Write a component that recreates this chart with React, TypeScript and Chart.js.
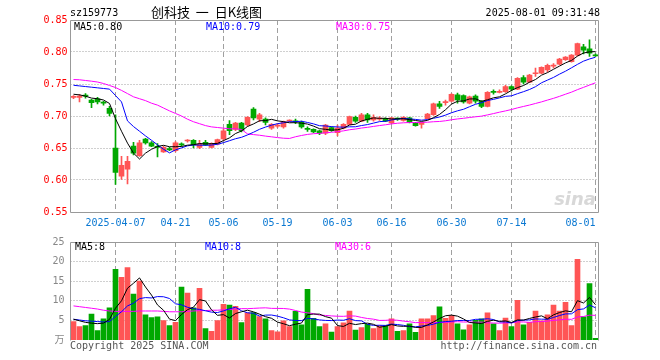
import React, { useEffect, useRef } from "react";
import { Chart, registerables } from "chart.js";

Chart.register(...registerables);

// ---------------- DATA ----------------
const dates = [
  "2025-03-26","2025-03-27","2025-03-28","2025-03-31","2025-04-01","2025-04-02","2025-04-03","2025-04-07","2025-04-08","2025-04-09",
  "2025-04-10","2025-04-11","2025-04-14","2025-04-15","2025-04-16","2025-04-17","2025-04-18","2025-04-21","2025-04-22","2025-04-23",
  "2025-04-24","2025-04-25","2025-04-28","2025-04-29","2025-04-30","2025-05-06","2025-05-07","2025-05-08","2025-05-09","2025-05-12",
  "2025-05-13","2025-05-14","2025-05-15","2025-05-16","2025-05-19","2025-05-20","2025-05-21","2025-05-22","2025-05-23","2025-05-26",
  "2025-05-27","2025-05-28","2025-05-29","2025-05-30","2025-06-03","2025-06-04","2025-06-05","2025-06-06","2025-06-09","2025-06-10",
  "2025-06-11","2025-06-12","2025-06-13","2025-06-16","2025-06-17","2025-06-18","2025-06-19","2025-06-20","2025-06-23","2025-06-24",
  "2025-06-25","2025-06-26","2025-06-27","2025-06-30","2025-07-01","2025-07-02","2025-07-03","2025-07-04","2025-07-07","2025-07-08",
  "2025-07-09","2025-07-10","2025-07-11","2025-07-14","2025-07-15","2025-07-16","2025-07-17","2025-07-18","2025-07-21","2025-07-22",
  "2025-07-23","2025-07-24","2025-07-25","2025-07-28","2025-07-29","2025-07-30","2025-07-31","2025-08-01",
];

const opens = [
  0.729,0.729,0.732,0.725,0.727,0.721,0.712,0.650,0.606,0.617,
  0.653,0.638,0.664,0.658,0.652,0.644,0.649,0.646,0.656,0.661,
  0.662,0.651,0.659,0.651,0.656,0.664,0.687,0.679,0.689,0.686,
  0.711,0.695,0.695,0.681,0.684,0.683,0.692,0.692,0.690,0.680,
  0.679,0.677,0.673,0.682,0.674,0.681,0.687,0.698,0.692,0.702,
  0.694,0.695,0.696,0.689,0.696,0.693,0.697,0.689,0.687,0.696,
  0.702,0.719,0.721,0.723,0.733,0.732,0.720,0.731,0.723,0.715,
  0.738,0.737,0.738,0.746,0.742,0.760,0.753,0.766,0.767,0.772,
  0.778,0.781,0.788,0.785,0.795,0.808,0.805,0.795,
];
const closes = [
  0.730,0.731,0.731,0.721,0.722,0.720,0.704,0.612,0.623,0.629,
  0.642,0.658,0.658,0.653,0.651,0.651,0.647,0.658,0.655,0.661,
  0.655,0.656,0.655,0.657,0.663,0.677,0.677,0.689,0.677,0.698,
  0.697,0.702,0.690,0.687,0.686,0.691,0.693,0.691,0.683,0.679,
  0.675,0.673,0.686,0.677,0.681,0.687,0.699,0.692,0.702,0.694,
  0.698,0.696,0.692,0.697,0.695,0.698,0.690,0.685,0.690,0.703,
  0.719,0.715,0.722,0.734,0.725,0.722,0.730,0.723,0.715,0.737,
  0.737,0.738,0.746,0.742,0.759,0.753,0.764,0.767,0.776,0.779,
  0.779,0.789,0.792,0.795,0.813,0.803,0.798,0.794,
];
const highs = [
  0.732,0.734,0.735,0.726,0.729,0.723,0.715,0.702,0.637,0.637,
  0.659,0.662,0.665,0.660,0.657,0.653,0.651,0.660,0.658,0.663,
  0.663,0.662,0.662,0.658,0.664,0.679,0.693,0.690,0.690,0.699,
  0.713,0.704,0.697,0.688,0.688,0.692,0.694,0.695,0.692,0.683,
  0.680,0.678,0.687,0.683,0.686,0.688,0.700,0.700,0.704,0.704,
  0.702,0.699,0.697,0.698,0.697,0.699,0.698,0.690,0.690,0.704,
  0.720,0.723,0.725,0.735,0.736,0.733,0.731,0.733,0.724,0.738,
  0.741,0.741,0.748,0.747,0.760,0.763,0.765,0.775,0.777,0.781,
  0.782,0.790,0.793,0.796,0.814,0.812,0.819,0.797,
];
const lows = [
  0.727,0.722,0.728,0.713,0.719,0.717,0.700,0.593,0.601,0.594,
  0.639,0.637,0.656,0.652,0.636,0.643,0.646,0.644,0.653,0.659,
  0.650,0.649,0.654,0.650,0.655,0.662,0.671,0.677,0.675,0.684,
  0.694,0.691,0.686,0.679,0.682,0.681,0.691,0.688,0.681,0.676,
  0.674,0.671,0.671,0.676,0.669,0.680,0.686,0.690,0.691,0.690,
  0.692,0.693,0.691,0.688,0.693,0.692,0.689,0.684,0.681,0.695,
  0.701,0.712,0.717,0.722,0.720,0.720,0.719,0.720,0.713,0.714,
  0.734,0.736,0.737,0.739,0.741,0.750,0.752,0.762,0.766,0.769,
  0.775,0.780,0.787,0.784,0.794,0.797,0.793,0.793,
];
// volume, in 万 (10k) units
const volumes = [
  4.7,3.45,3.7,6.6,2.4,5.4,8.2,18.0,16.0,18.5,
  11.7,15.0,6.4,5.7,5.9,4.95,3.7,4.5,13.5,12.0,
  8.2,13.2,2.9,2.2,4.95,9.1,8.9,8.6,4.45,6.95,
  7.0,5.95,5.4,2.4,2.1,4.9,3.45,7.3,3.9,12.9,
  5.5,3.4,4.1,2.0,3.4,4.4,7.4,2.5,3.2,4.0,
  2.9,3.7,3.7,5.4,2.2,2.4,4.1,1.95,5.4,5.4,
  6.2,8.45,5.5,6.2,4.1,2.6,3.9,5.0,5.4,6.9,
  4.1,2.4,5.6,3.4,10.1,3.9,4.5,7.4,4.9,6.4,
  8.9,7.4,9.6,3.7,20.6,5.9,14.4,0.4,
];

// moving-average values before enough history exists in the window
const priceMa5Lead = [0.734, 0.733, 0.731, 0.728];
const priceMa10Lead = [0.748, 0.747, 0.746, 0.745, 0.744, 0.743, 0.742, 0.732, 0.722];
const priceMa30Lead = [
  0.757,0.7566,0.7555,0.7544,0.7531,0.7508,0.7477,0.7445,0.740,0.735,
  0.730,0.727,0.724,0.720,0.717,0.7125,0.708,0.704,0.700,0.695,
  0.691,0.688,0.685,0.683,0.682,0.681,0.680,0.680,0.679,
];
const volMa5Lead = [5.3, 4.9, 4.5, 4.3];
const volMa10Lead = [5.3, 5.1, 4.9, 4.8, 4.7, 4.6, 4.7, 6.0, 7.2];
const volMa30Lead = [
  8.7,8.5,8.3,8.1,7.9,7.6,7.4,7.3,7.3,7.3,
  7.3,7.4,7.4,7.4,7.4,7.3,7.2,7.2,7.2,7.3,
  7.4,7.5,7.5,7.6,7.6,7.7,7.8,7.9,8.0,
];

const tickDates = ["2025-04-07","2025-04-21","2025-05-06","2025-05-19","2025-06-03","2025-06-16","2025-06-30","2025-07-14","2025-08-01"];
const tickLabels = ["2025-04-07","04-21","05-06","05-19","06-03","06-16","06-30","07-14","08-01"];

const priceMin = 0.55;
const priceMax = 0.85;
const priceStep = 0.05;
const volMax = 25;
const volStep = 5;

const headerCode = "sz159773";
const headerTitle = "创科技  一  日K线图";
const headerTime = "2025-08-01 09:31:48";
const priceMaLabels = ["MA5:0.80", "MA10:0.79", "MA30:0.75"];
const volMaLabels = ["MA5:8", "MA10:8", "MA30:6"];

// ---------------- HELPERS ----------------
function movingAverage(values: number[], n: number, lead: number[]) {
  return values.map((_, i) => {
    if (i < n - 1) return lead[i];
    let s = 0;
    for (let k = i - n + 1; k <= i; k++) s += values[k];
    return s / n;
  });
}

const UP = "#ff5555";
const DOWN = "#00a800";
const GRID = "#a0a0a0";
const MONO = '"DejaVu Sans Mono", "Noto Sans CJK SC", monospace';
const candleColors = closes.map((c, i) => (c >= opens[i] ? UP : DOWN));
const tickIdx = tickDates.map((d) => dates.indexOf(d));

// grid lines (dotted horizontals at the y ticks, dashed verticals at the labelled dates) + frame
const framePlugin = {
  id: "frame",
  beforeDatasetsDraw(chart: any) {
    const { left, right, top, bottom } = chart.chartArea;
    const ctx = chart.ctx;
    const ys = chart.scales.y;
    const xs = chart.scales.x;
    ctx.save();
    ctx.strokeStyle = GRID;
    ctx.lineWidth = 1;
    ctx.setLineDash([1, 2]);
    ctx.beginPath();
    ys.ticks.forEach((t: any) => {
      if (t.value <= ys.min + 1e-6 || t.value >= ys.max - 1e-6) return;
      const y = Math.floor(ys.getPixelForValue(t.value)) + 0.5;
      ctx.moveTo(left, y);
      ctx.lineTo(right, y);
    });
    ctx.stroke();
    ctx.setLineDash([5, 3]);
    ctx.beginPath();
    tickIdx.forEach((i) => {
      const x = Math.floor(xs.getPixelForValue(i)) + 0.5;
      ctx.moveTo(x, top);
      ctx.lineTo(x, bottom);
    });
    ctx.stroke();
    ctx.restore();
  },
  afterDraw(chart: any, _args: any, opts: any) {
    const { left, right, top, bottom } = chart.chartArea;
    const ctx = chart.ctx;
    const l = Math.floor(left) + 0.5;
    const r = Math.floor(right) + 0.5;
    const t = Math.floor(top) + 0.5;
    const b = Math.floor(bottom) + 0.5;
    ctx.save();
    ctx.strokeStyle = "#999";
    ctx.lineWidth = 1;
    ctx.setLineDash([]);
    ctx.beginPath();
    ctx.moveTo(l, b);
    ctx.lineTo(l, t);
    ctx.lineTo(r, t);
    ctx.lineTo(r, b);
    if (opts && opts.bottom) ctx.lineTo(l, b);
    ctx.stroke();
    ctx.restore();
  },
};

function xScale(showLabels: boolean, height: number) {
  return {
    type: "category",
    offset: true,
    grid: { display: false, offset: false, drawTicks: false },
    border: { display: false },
    ticks: {
      display: showLabels,
      autoSkip: false,
      maxRotation: 0,
      minRotation: 0,
      padding: 5,
      color: "#0a78d2",
      font: { family: MONO, size: 10 },
      callback: (_v: any, index: number) => {
        const k = tickIdx.indexOf(index);
        if (k < 0) return "";
        const lab = tickLabels[k];
        return k === tickLabels.length - 1 ? lab.padEnd(10, " ") : lab;
      },
    },
    afterFit: (s: any) => {
      s.height = height;
    },
  };
}

function lineDs(data: number[], color: string) {
  return {
    type: "line",
    data,
    borderColor: color,
    borderWidth: 1,
    pointRadius: 0,
    tension: 0,
    fill: false,
    order: 0,
  };
}

function PriceChart() {
  const ref = useRef<HTMLCanvasElement>(null);
  useEffect(() => {
    const chart = new Chart(ref.current as HTMLCanvasElement, {
      type: "bar",
      data: {
        labels: dates,
        datasets: [
          lineDs(movingAverage(closes, 5, priceMa5Lead), "#000000"),
          lineDs(movingAverage(closes, 10, priceMa10Lead), "#0000ff"),
          lineDs(movingAverage(closes, 30, priceMa30Lead), "#ff00ff"),
          {
            type: "bar",
            data: opens.map((o, i) => [o, closes[i]]),
            backgroundColor: candleColors,
            borderWidth: 0,
            barThickness: 5,
            minBarLength: 1,
            grouped: false,
            order: 1,
          },
          {
            type: "bar",
            data: lows.map((l, i) => [l, highs[i]]),
            backgroundColor: candleColors,
            borderWidth: 0,
            barThickness: 1,
            grouped: false,
            order: 2,
          },
        ] as any,
      },
      options: {
        animation: false,
        responsive: false,
        maintainAspectRatio: false,
        events: [],
        layout: { padding: { left: 0, right: 61.5, top: 20, bottom: 0 } },
        plugins: { legend: { display: false }, tooltip: { enabled: false }, frame: { bottom: true } } as any,
        scales: {
          x: xScale(true, 20) as any,
          y: {
            min: priceMin,
            max: priceMax,
            grid: { display: false, drawTicks: false },
            border: { display: false },
            ticks: {
              stepSize: priceStep,
              padding: 3,
              color: "#ff0000",
              font: { family: MONO, size: 10 },
              callback: (v: any) => Number(v).toFixed(2),
            },
            afterFit: (s: any) => {
              s.width = 70.5;
            },
          } as any,
        },
      },
      plugins: [framePlugin],
    });
    return () => chart.destroy();
  }, []);
  return <canvas ref={ref} width={660} height={232} style={{ position: "absolute", left: 0, top: 0, width: 660, height: 232 }} />;
}

function VolumeChart() {
  const ref = useRef<HTMLCanvasElement>(null);
  useEffect(() => {
    const chart = new Chart(ref.current as HTMLCanvasElement, {
      type: "bar",
      data: {
        labels: dates,
        datasets: [
          lineDs(movingAverage(volumes, 5, volMa5Lead), "#000000"),
          lineDs(movingAverage(volumes, 10, volMa10Lead), "#0000ff"),
          lineDs(movingAverage(volumes, 30, volMa30Lead), "#ff00ff"),
          {
            type: "bar",
            data: volumes,
            backgroundColor: candleColors,
            borderWidth: 0,
            barThickness: 5,
            grouped: false,
            order: 1,
          },
        ] as any,
      },
      options: {
        animation: false,
        responsive: false,
        maintainAspectRatio: false,
        events: [],
        layout: { padding: { left: 0, right: 61.5, top: 10, bottom: 0 } },
        plugins: { legend: { display: false }, tooltip: { enabled: false }, frame: { bottom: false } } as any,
        scales: {
          x: xScale(false, 20) as any,
          y: {
            min: 0,
            max: volMax,
            grid: { display: false, drawTicks: false },
            border: { display: false },
            ticks: {
              stepSize: volStep,
              padding: 6,
              color: "#888888",
              font: { family: MONO, size: 10 },
              callback: (v: any) => (Number(v) === 0 ? "万" : String(v)),
            },
            afterFit: (s: any) => {
              s.width = 70.5;
            },
          } as any,
        },
      },
      plugins: [framePlugin],
    });
    return () => chart.destroy();
  }, []);
  return <canvas ref={ref} width={660} height={130} style={{ position: "absolute", left: 0, top: 230, width: 660, height: 130 }} />;
}

function Txt(props: { x: number; y: number; color?: string; size?: number; family?: string; align?: "left" | "right"; children: any; style?: any }) {
  const { x, y, color = "#000", size = 10, family = MONO, align = "left", children, style } = props;
  const pos: any = align === "right" ? { right: 660 - x } : { left: x };
  return (
    <div
      style={{
        position: "absolute",
        top: y,
        ...pos,
        color,
        fontSize: size,
        fontFamily: family,
        lineHeight: "12px",
        whiteSpace: "pre",
        ...style,
      }}
    >
      {children}
    </div>
  );
}

export default function App() {
  return (
    <div style={{ position: "fixed", left: 0, top: 0, width: 660, height: 360, background: "#fff", overflow: "hidden" }}>
      <PriceChart />
      <VolumeChart />
      <Txt x={70} y={7} size={10}>{headerCode}</Txt>
      <Txt x={151} y={6} size={13} family={'"Noto Sans CJK SC", sans-serif'}>{headerTitle}</Txt>
      <Txt x={600} y={7} align="right">{headerTime}</Txt>
      <Txt x={74} y={21}>{priceMaLabels[0]}</Txt>
      <Txt x={206} y={21} color="#0000ff">{priceMaLabels[1]}</Txt>
      <Txt x={336} y={21} color="#ff00ff">{priceMaLabels[2]}</Txt>
      <Txt x={75} y={241}>{volMaLabels[0]}</Txt>
      <Txt x={205} y={241} color="#0000ff">{volMaLabels[1]}</Txt>
      <Txt x={335} y={241} color="#ff00ff">{volMaLabels[2]}</Txt>
      <Txt x={70} y={340} color="#555">Copyright 2025 SINA.COM</Txt>
      <Txt x={597} y={340} color="#555" align="right">http://finance.sina.com.cn</Txt>
      <Txt x={596} y={190} align="right" color="#d8d8d8" size={18} family={'"DejaVu Sans", sans-serif'} style={{ fontStyle: "italic", fontWeight: "bold", lineHeight: "18px" }}>sina</Txt>
    </div>
  );
}
